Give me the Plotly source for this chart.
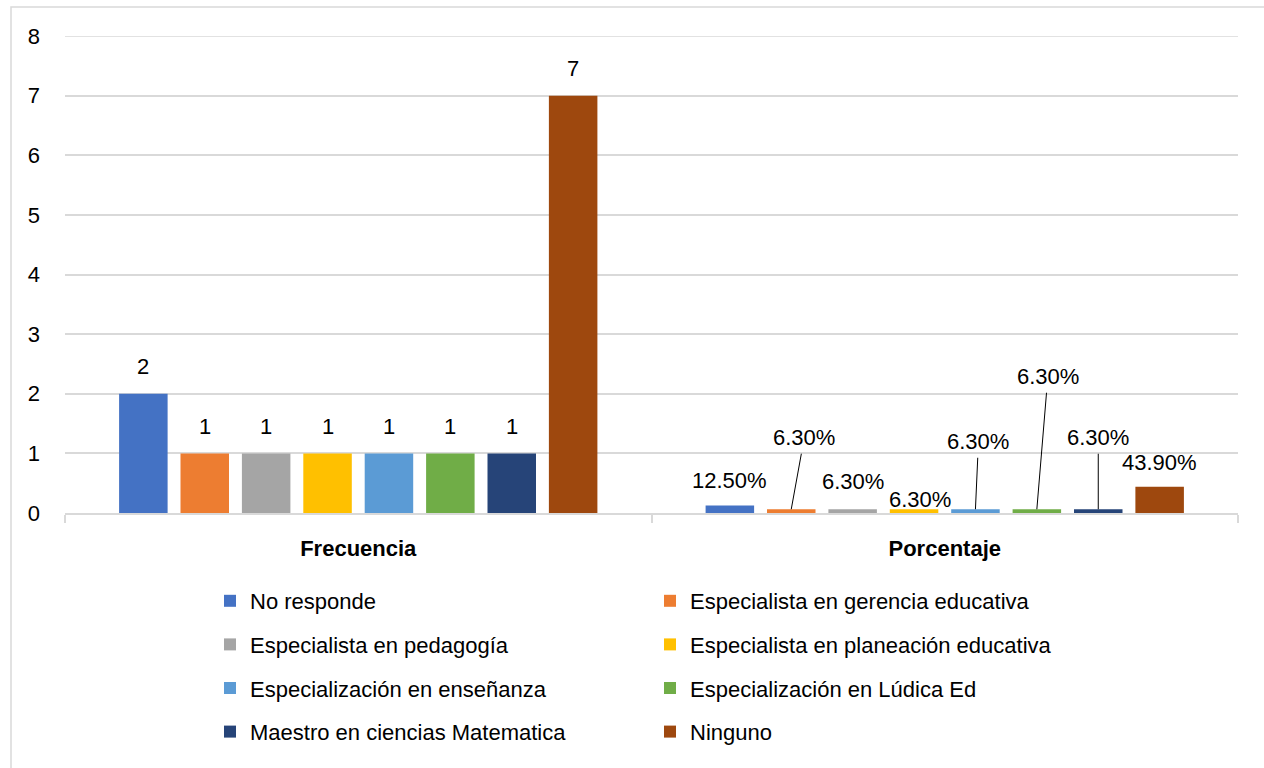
import plotly.graph_objects as go

# ---------------- data ----------------
categories = ["Frecuencia", "Porcentaje"]
series_names = [
    "No responde",
    "Especialista en gerencia educativa",
    "Especialista en pedagogía",
    "Especialista en planeación educativa",
    "Especialización en enseñanza",
    "Especialización en Lúdica Ed",
    "Maestro en ciencias Matematica",
    "Ninguno",
]
frecuencia = [2, 1, 1, 1, 1, 1, 1, 7]
porcentaje = [0.125, 0.063, 0.063, 0.063, 0.063, 0.063, 0.063, 0.439]
y_ticks = [0, 1, 2, 3, 4, 5, 6, 7, 8]

# ---------------- style ----------------
colors = ["#4472C4", "#ED7D31", "#A5A5A5", "#FFC000",
          "#5B9BD5", "#70AD47", "#264478", "#9E480E"]
FONT = "Liberation Sans, Arial, sans-serif"
FS = 22
GRID = "#d9d9d9"
BARGAP = 0.1625
BARGROUPGAP = 0.21
# label offsets (pixels) relative to top-centre of each bar
freq_label_shift = [(0, -27)] * 8
pct_label_shift = [(0, -25.5), (13, -71.5), (0, -27.5), (5.5, -9.5),
                   (3, -67.5), (11, -132.5), (0, -71.5), (0, -24)]
pct_leader = [False, True, False, False, True, True, True, False]

fig = go.Figure()
n = len(series_names)
for i, name in enumerate(series_names):
    fig.add_trace(go.Bar(
        x=categories,
        y=[frecuencia[i], porcentaje[i]],
        name=name,
        marker=dict(color=colors[i], line=dict(width=0)),
        legend="legend" if i % 2 == 0 else "legend2",
        legendgroup=f"g{i}",
        hoverinfo="x+y+name",
    ))

annotations = []
slot = (1 - BARGAP) / n
for i in range(n):
    off = (i - (n - 1) / 2) * slot
    # Frecuencia labels
    dx, dy = freq_label_shift[i]
    annotations.append(dict(
        x=0 + off, y=frecuencia[i], xref="x", yref="y",
        text=f"{frecuencia[i]}", showarrow=False,
        xshift=dx, yshift=-dy,
        font=dict(family=FONT, size=FS, color="#000000"),
    ))
    # Porcentaje labels
    dx, dy = pct_label_shift[i]
    txt = f"{porcentaje[i] * 100:.2f}%"
    if pct_leader[i]:
        annotations.append(dict(
            x=1 + off, y=porcentaje[i], xref="x", yref="y",
            text=txt, showarrow=True, arrowhead=0, arrowwidth=1,
            arrowcolor="#000000", ax=dx, ay=dy, standoff=0, startstandoff=2,
            font=dict(family=FONT, size=FS, color="#000000"),
        ))
    else:
        annotations.append(dict(
            x=1 + off, y=porcentaje[i], xref="x", yref="y",
            text=txt, showarrow=False, xshift=dx, yshift=-dy,
            font=dict(family=FONT, size=FS, color="#000000"),
        ))

W, H = 1264, 768
ML, MR, MT, MB = 65, 26, 36, 255
pw, ph = W - ML - MR, H - MT - MB


def px_x(px):
    return (px - ML) / pw


def px_y(py):
    return (H - MB - py) / ph


fig.update_layout(
    width=W, height=H,
    margin=dict(l=ML, r=MR, t=MT, b=MB),
    paper_bgcolor="#ffffff", plot_bgcolor="#ffffff",
    barmode="group", bargap=BARGAP, bargroupgap=BARGROUPGAP,
    font=dict(family=FONT, size=FS, color="#000000"),
    annotations=annotations,
    showlegend=True,
    legend=dict(
        orientation="v", x=px_x(210), xanchor="left", y=px_y(580), yanchor="top",
        font=dict(family=FONT, size=FS, color="#000000"),
        tracegroupgap=12, bgcolor="rgba(0,0,0,0)",
    ),
    legend2=dict(
        orientation="v", x=px_x(650), xanchor="left", y=px_y(580), yanchor="top",
        font=dict(family=FONT, size=FS, color="#000000"),
        tracegroupgap=12, bgcolor="rgba(0,0,0,0)",
    ),
    shapes=[
        dict(
            type="rect", xref="paper", yref="paper", layer="below",
            x0=px_x(11), y0=px_y(H + 20), x1=px_x(W + 20), y1=px_y(7),
            line=dict(color=GRID, width=1.5), fillcolor="rgba(0,0,0,0)",
        ),
        # top gridline (plotly skips the gridline on the plot edge)
        dict(
            type="line", xref="paper", yref="y", layer="below",
            x0=0, x1=1, y0=y_ticks[-1], y1=y_ticks[-1],
            line=dict(color=GRID, width=1.5),
        ),
    ],
)
fig.update_xaxes(
    type="category", showgrid=False, showline=True, linecolor=GRID, linewidth=1.5,
    ticks="outside", tickson="boundaries", ticklen=8, tickcolor=GRID, tickwidth=1.5,
    tickfont=dict(family=FONT, size=FS, color="#000000", weight="bold"),
    ticklabelstandoff=15,
    range=[-0.5, 1.5], zeroline=False,
)
fig.update_yaxes(
    range=[0, 8], tickvals=y_ticks, showgrid=True, gridcolor=GRID, gridwidth=1.5,
    zeroline=False, showline=False, ticks="", ticklabelstandoff=24,
    tickfont=dict(family=FONT, size=FS, color="#000000"),
)

fig.write_html(
    "out.html",
    config={"displayModeBar": False},
    post_script="document.body.style.margin='0';document.body.style.overflow='hidden';",
)
